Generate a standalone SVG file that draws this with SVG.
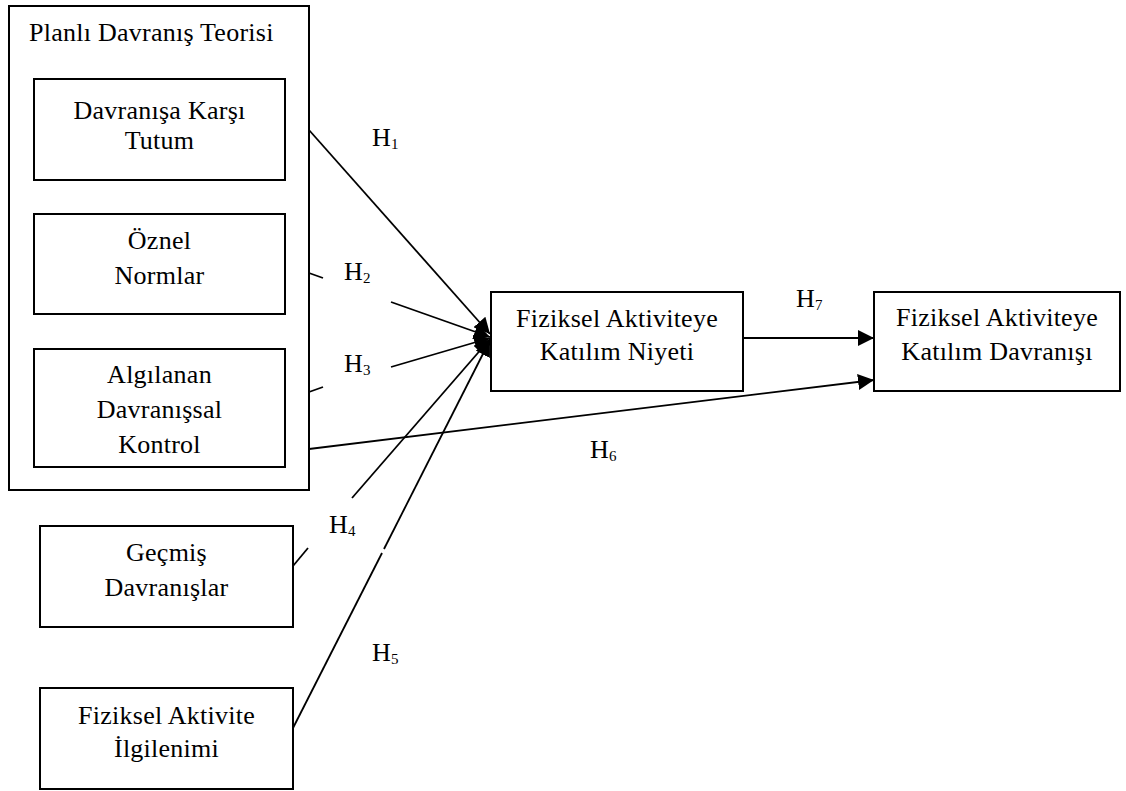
<svg xmlns="http://www.w3.org/2000/svg" width="1126" height="791" viewBox="0 0 1126 791">
  <defs>
    <marker id="arrow" viewBox="0 0 16 16" refX="16" refY="8" markerWidth="16" markerHeight="16" orient="auto" markerUnits="userSpaceOnUse">
      <path d="M0,0 L16,8 L0,16 Z" fill="#000"/>
    </marker>
    <style>
      .box { fill: #fff; stroke: #000; stroke-width: 2; }
      .lbl { font-family: "Liberation Serif", "Times New Roman", serif; font-size: 26px; letter-spacing: 0.25px; fill: #000; text-anchor: middle; }
      .hyp { font-family: "Liberation Serif", "Times New Roman", serif; font-size: 26px; letter-spacing: 0.25px; fill: #000; }
      .sub { font-size: 15px; }
      .edge { stroke: #000; stroke-width: 1.8; fill: none; }
    </style>
  </defs>
  <rect width="1126" height="791" fill="#fff"/>

  <!-- Theory of planned behaviour frame -->
  <g id="tpb-group">
    <rect class="box" x="9" y="6" width="300" height="484"/>
    <text class="hyp" x="29" y="41">Planlı Davranış Teorisi</text>
  </g>

  <g id="node-tutum">
    <rect class="box" x="34" y="79" width="251" height="101"/>
    <text class="lbl" x="159.5" y="119">Davranışa Karşı</text>
    <text class="lbl" x="159.5" y="149">Tutum</text>
  </g>

  <g id="node-normlar">
    <rect class="box" x="34" y="214" width="251" height="100"/>
    <text class="lbl" x="159.5" y="249">Öznel</text>
    <text class="lbl" x="159.5" y="284">Normlar</text>
  </g>

  <g id="node-kontrol">
    <rect class="box" x="34" y="349" width="251" height="118"/>
    <text class="lbl" x="159.5" y="383">Algılanan</text>
    <text class="lbl" x="159.5" y="418">Davranışsal</text>
    <text class="lbl" x="159.5" y="453">Kontrol</text>
  </g>

  <g id="node-gecmis">
    <rect class="box" x="40" y="526" width="253" height="101"/>
    <text class="lbl" x="166.5" y="561">Geçmiş</text>
    <text class="lbl" x="166.5" y="596">Davranışlar</text>
  </g>

  <g id="node-ilgilenim">
    <rect class="box" x="40" y="688" width="253" height="101"/>
    <text class="lbl" x="166.5" y="724">Fiziksel Aktivite</text>
    <text class="lbl" x="166.5" y="757">İlgilenimi</text>
  </g>

  <g id="node-niyet">
    <rect class="box" x="491" y="292" width="252" height="99"/>
    <text class="lbl" x="617" y="327">Fiziksel Aktiviteye</text>
    <text class="lbl" x="617" y="360">Katılım Niyeti</text>
  </g>

  <g id="node-davranis">
    <rect class="box" x="874" y="292" width="246" height="99"/>
    <text class="lbl" x="997" y="326">Fiziksel Aktiviteye</text>
    <text class="lbl" x="997" y="360">Katılım Davranışı</text>
  </g>

  <!-- Hypothesised paths -->
  <g id="connectors">
    <line class="edge" x1="309" y1="130" x2="490" y2="334" marker-end="url(#arrow)"/>
    <line class="edge" x1="309" y1="273" x2="323" y2="278"/>
    <line class="edge" x1="391" y1="302" x2="490" y2="337" marker-end="url(#arrow)"/>
    <line class="edge" x1="309" y1="392" x2="323" y2="387"/>
    <line class="edge" x1="391" y1="367" x2="490" y2="338" marker-end="url(#arrow)"/>
    <line class="edge" x1="293" y1="566" x2="308" y2="548"/>
    <line class="edge" x1="352" y1="498" x2="490" y2="339" marker-end="url(#arrow)"/>
    <line class="edge" x1="293" y1="728" x2="382" y2="553"/>
    <line class="edge" x1="384" y1="549" x2="490" y2="340" marker-end="url(#arrow)"/>
    <line class="edge" x1="309" y1="449" x2="874" y2="380" marker-end="url(#arrow)"/>
    <line class="edge" x1="743" y1="338" x2="874" y2="338" marker-end="url(#arrow)"/>
  </g>

  <g id="path-labels">
    <text class="hyp" x="372" y="146">H<tspan class="sub" dy="3">1</tspan></text>
    <text class="hyp" x="344" y="280">H<tspan class="sub" dy="3">2</tspan></text>
    <text class="hyp" x="344" y="372">H<tspan class="sub" dy="3">3</tspan></text>
    <text class="hyp" x="329" y="533">H<tspan class="sub" dy="3">4</tspan></text>
    <text class="hyp" x="372" y="661">H<tspan class="sub" dy="3">5</tspan></text>
    <text class="hyp" x="590" y="458">H<tspan class="sub" dy="3">6</tspan></text>
    <text class="hyp" x="796" y="307">H<tspan class="sub" dy="3">7</tspan></text>
  </g>
</svg>
